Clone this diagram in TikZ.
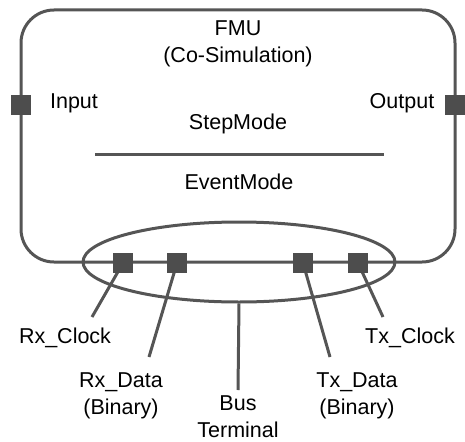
\documentclass[tikz,border=0pt]{standalone}
\usepackage{fontspec}
\setmainfont{Liberation Sans}
\usetikzlibrary{shapes.geometric}
\definecolor{stroke}{HTML}{555555}
\definecolor{portfill}{HTML}{4D4D4D}
\tikzset{
  wire/.style={draw=stroke, line width=3pt},
  port/.style={rectangle, fill=portfill, draw=none, minimum size=20pt, inner sep=0pt},
  lbl/.style={font=\fontsize{21.5}{27}\selectfont, align=center, inner sep=0pt, text=black},
}
\begin{document}
\begin{tikzpicture}[x=1pt,y=-1pt]
  \useasboundingbox (0,0) rectangle (465,441);

  % FMU body
  \draw[wire, rounded corners=33pt] (21,10) rectangle (455,262);

  % bus terminal grouping
  \node[wire, ellipse, minimum width=312pt, minimum height=80pt, inner sep=0pt] (bus) at (239,262) {};

  % texts inside the FMU
  \node[lbl] (fmu) at (238,28) {FMU};
  \node[lbl] (cosim) at (238,57) {(Co-Simulation)};
  \node[lbl] (inp) at (74,103) {Input};
  \node[lbl] (outp) at (402,103) {Output};
  \node[lbl] (step) at (238,124) {StepMode};
  \node[lbl] (event) at (239,182) {EventMode};
  \coordinate (divL) at (95,154);
  \coordinate (divR) at (384,154);
  \draw[wire] (divL) -- (divR);

  % bottom labels
  \node[lbl] (rxclk) at (65,338) {Rx\_Clock};
  \node[lbl] (txclk) at (410,338) {Tx\_Clock};
  \node[lbl] (rxdat) at (121,396) {Rx\_Data\\(Binary)};
  \node[lbl] (txdat) at (357,396) {Tx\_Data\\(Binary)};
  \node[lbl] (busterm) at (238,417) {Bus\\Terminal};

  % leader ends
  \coordinate (rxclkEnd) at (92,317);
  \coordinate (rxdatEnd) at (149,357);
  \coordinate (txdatEnd) at (330,357);
  \coordinate (txclkEnd) at (383,317);
  \coordinate (busEnd) at (238,390);

  % ports
  \coordinate (pRxC) at (123,263);
  \coordinate (pRxD) at (177,263);
  \coordinate (pTxD) at (303,263);
  \coordinate (pTxC) at (358,263);

  \draw[wire] (pRxC) -- (rxclkEnd);
  \draw[wire] (pRxD) -- (rxdatEnd);
  \draw[wire] (pTxD) -- (txdatEnd);
  \draw[wire] (pTxC) -- (txclkEnd);
  \draw[wire] (bus.south) -- (busEnd);

  \node[port] (sqIn) at (21,105) {};
  \node[port] (sqOut) at (455,105) {};
  \node[port] (sqRxC) at (pRxC) {};
  \node[port] (sqRxD) at (pRxD) {};
  \node[port] (sqTxD) at (pTxD) {};
  \node[port] (sqTxC) at (pTxC) {};
\end{tikzpicture}
\end{document}
